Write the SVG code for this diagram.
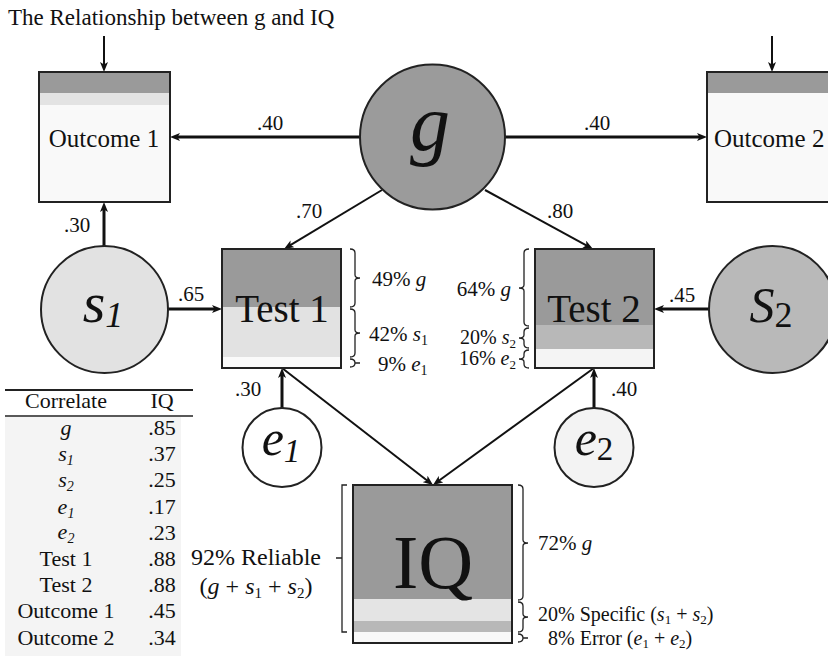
<svg xmlns="http://www.w3.org/2000/svg" width="828" height="656" viewBox="0 0 828 656">
<style>
text{font-family:"Liberation Serif","Times New Roman",serif;fill:#111}
.i{font-style:italic}
.out{fill:none;stroke:#222;stroke-width:2}
.node{stroke:#222;stroke-width:2}
.br{fill:none;stroke:#222;stroke-width:1.3}
.lbl{font-size:21px}
.sm{font-size:20px}
.tb{font-size:22px}
#connectors line{stroke:#111;fill:none}
.w3{stroke-width:3}
.w2{stroke-width:2}
</style>
<defs>
<marker id="ah" viewBox="0 0 10 8" refX="5" refY="4" markerWidth="10" markerHeight="8" markerUnits="userSpaceOnUse" orient="auto">
<path d="M0,0 L10,4 L0,8 L2.5,4 z" fill="#111"/>
</marker>
</defs>
<rect width="828" height="656" fill="#fff"/>
<text x="8" y="25" font-size="23">The Relationship between g and IQ</text>

<g id="connectors">
<line class="w2" x1="104" y1="36" x2="104" y2="67" marker-end="url(#ah)"/>
<line class="w2" x1="772" y1="36" x2="772" y2="67" marker-end="url(#ah)"/>
<line class="w3" x1="360" y1="137" x2="175" y2="137" marker-end="url(#ah)"/>
<line class="w3" x1="505" y1="137" x2="702" y2="137" marker-end="url(#ah)"/>
<line class="w2" x1="382" y1="190" x2="288.3" y2="246.4" marker-end="url(#ah)"/>
<line class="w2" x1="485" y1="190" x2="588.6" y2="246.6" marker-end="url(#ah)"/>
<line class="w3" x1="104" y1="246" x2="104" y2="207" marker-end="url(#ah)"/>
<line class="w3" x1="168" y1="309" x2="217" y2="309" marker-end="url(#ah)"/>
<line class="w3" x1="709" y1="309" x2="659" y2="309" marker-end="url(#ah)"/>
<line class="w3" x1="282" y1="408" x2="282" y2="373" marker-end="url(#ah)"/>
<line class="w3" x1="594" y1="408" x2="594" y2="373" marker-end="url(#ah)"/>
<line class="w2" x1="282" y1="368" x2="429.05" y2="481.94" marker-end="url(#ah)"/>
<line class="w2" x1="594" y1="368" x2="437.05" y2="482.06" marker-end="url(#ah)"/>
<text class="lbl" x="270" y="130" text-anchor="middle">.40</text>
<text class="lbl" x="597" y="130" text-anchor="middle">.40</text>
<text class="lbl" x="309" y="218" text-anchor="middle">.70</text>
<text class="lbl" x="560" y="218" text-anchor="middle">.80</text>
<text class="lbl" x="77" y="232" text-anchor="middle">.30</text>
<text class="lbl" x="191" y="301" text-anchor="middle">.65</text>
<text class="lbl" x="682" y="302" text-anchor="middle">.45</text>
<text class="lbl" x="248" y="396" text-anchor="middle">.30</text>
<text class="lbl" x="624" y="396" text-anchor="middle">.40</text>
</g>

<g id="outcome1">
<rect x="39" y="72" width="131" height="130" fill="#f9f9f9"/>
<rect x="39" y="72" width="131" height="21" fill="#9a9a9a"/>
<rect x="39" y="93" width="131" height="12" fill="#e3e3e3"/>
<rect class="out" x="39" y="72" width="131" height="130"/>
<text x="104" y="147" font-size="25" text-anchor="middle">Outcome 1</text>
</g>

<g id="outcome2">
<rect x="707" y="72" width="131" height="130" fill="#f9f9f9"/>
<rect x="707" y="72" width="131" height="21" fill="#9a9a9a"/>
<rect class="out" x="707" y="72" width="131" height="130"/>
<text x="714" y="147" font-size="25">Outcome 2</text>
</g>

<g id="g">
<circle class="node" cx="432.5" cy="137" r="72.5" fill="#9b9b9b"/>
<text class="i" x="430" y="150" font-size="80" text-anchor="middle">g</text>
</g>

<g id="s1">
<circle class="node" cx="104.5" cy="309.5" r="63.5" fill="#e2e2e2"/>
<text x="103" y="322" text-anchor="middle"><tspan class="i" font-size="58">s</tspan><tspan class="i" font-size="36" dy="5">1</tspan></text>
</g>

<g id="s2">
<circle class="node" cx="772.5" cy="309.5" r="63.5" fill="#b9b9b9"/>
<text x="771" y="322" text-anchor="middle"><tspan class="i" font-size="50">S</tspan><tspan font-size="36" dy="5">2</tspan></text>
</g>

<g id="e1">
<circle class="node" cx="282" cy="447.5" r="39.5" fill="#ffffff"/>
<text x="281" y="455" text-anchor="middle"><tspan class="i" font-size="50">e</tspan><tspan class="i" font-size="33" dy="7">1</tspan></text>
</g>

<g id="e2">
<circle class="node" cx="594" cy="447.5" r="39.5" fill="#f3f3f3"/>
<text x="594" y="455" text-anchor="middle"><tspan class="i" font-size="50">e</tspan><tspan font-size="33" dy="5">2</tspan></text>
</g>

<g id="test1">
<rect x="222" y="249" width="119" height="119" fill="#fafafa"/>
<rect x="222" y="249" width="119" height="58" fill="#9a9a9a"/>
<rect x="222" y="307" width="119" height="50" fill="#e2e2e2"/>
<rect class="out" x="222" y="249" width="119" height="119"/>
<text x="282" y="322" font-size="39" text-anchor="middle">Test 1</text>
<path class="br" d="M350,249 Q355,249 355,253 V275 Q355,278 360,278 Q355,278 355,281 V303 Q355,307 350,307"/>
<path class="br" d="M350,309 Q355,309 355,313 V330 Q355,333 360,333 Q355,333 355,336 V353 Q355,357 350,357"/>
<path class="br" d="M350,359 Q355,359 355,363 Q355,367 350,367 M355,363 H360"/>
<text class="lbl" x="372" y="286">49% <tspan class="i">g</tspan></text>
<text class="lbl" x="369" y="341">42% <tspan class="i">s</tspan><tspan font-size="14" dy="4">1</tspan></text>
<text class="lbl" x="378" y="371">9% <tspan class="i">e</tspan><tspan font-size="14" dy="4">1</tspan></text>
</g>

<g id="test2">
<rect x="535" y="249" width="119" height="119" fill="#f4f4f4"/>
<rect x="535" y="249" width="119" height="76" fill="#9a9a9a"/>
<rect x="535" y="325" width="119" height="24" fill="#b8b8b8"/>
<rect class="out" x="535" y="249" width="119" height="119"/>
<text x="594" y="322" font-size="39" text-anchor="middle">Test 2</text>
<path class="br" d="M529,249 Q524,249 524,253 V285 Q524,288 519,288 Q524,288 524,291 V322 Q524,326 529,326"/>
<path class="br" d="M529,328 Q524,328 524,332 V335 Q524,338 519,338 Q524,338 524,341 V344 Q524,348 529,348"/>
<path class="br" d="M529,350 Q524,350 524,354 V356 Q524,359 519,359 Q524,359 524,362 V364 Q524,368 529,368"/>
<text class="lbl" x="511" y="296" text-anchor="end">64% <tspan class="i">g</tspan></text>
<text class="sm" x="516" y="344" text-anchor="end">20% <tspan class="i">s</tspan><tspan font-size="13" dy="4">2</tspan></text>
<text class="sm" x="516" y="365" text-anchor="end">16% <tspan class="i">e</tspan><tspan font-size="13" dy="4">2</tspan></text>
</g>

<g id="iq">
<rect x="353" y="485" width="159" height="158" fill="#f8f8f8"/>
<rect x="353" y="485" width="159" height="114" fill="#9a9a9a"/>
<rect x="353" y="599" width="159" height="22" fill="#e4e4e4"/>
<rect x="353" y="621" width="159" height="11" fill="#b8b8b8"/>
<rect class="out" x="353" y="485" width="159" height="158"/>
<text x="433" y="588" font-size="76" text-anchor="middle">IQ</text>
<path class="br" d="M347,485 H342 V632 H347 M342,558 H336"/>
<path class="br" d="M518,485 Q523,485 523,489 V540 Q523,543 528,543 Q523,543 523,546 V596 Q523,600 518,600"/>
<path class="br" d="M518,602 Q523,602 523,606 V614 Q523,617 528,617 Q523,617 523,620 V628 Q523,632 518,632"/>
<path class="br" d="M518,634 Q523,634 523,638 Q523,642 518,642 M523,638 H528"/>
<text class="lbl" x="538" y="550">72% <tspan class="i">g</tspan></text>
<text class="sm" x="538" y="621">20% Specific (<tspan class="i">s</tspan><tspan font-size="13" dy="3">1</tspan><tspan dy="-3"> + </tspan><tspan class="i">s</tspan><tspan font-size="13" dy="3">2</tspan><tspan dy="-3">)</tspan></text>
<text class="sm" x="548" y="645">8% Error (<tspan class="i">e</tspan><tspan font-size="13" dy="3">1</tspan><tspan dy="-3"> + </tspan><tspan class="i">e</tspan><tspan font-size="13" dy="3">2</tspan><tspan dy="-3">)</tspan></text>
<text x="256" y="565" font-size="24" text-anchor="middle">92% Reliable</text>
<text x="256" y="594" font-size="24" text-anchor="middle">(<tspan class="i">g</tspan> + <tspan class="i">s</tspan><tspan font-size="15" dy="4">1</tspan><tspan dy="-4"> + </tspan><tspan class="i">s</tspan><tspan font-size="15" dy="4">2</tspan><tspan dy="-4">)</tspan></text>
</g>

<g id="table">
<rect x="5" y="417" width="176" height="239" fill="#f4f4f4"/>
<line x1="5" y1="390" x2="193" y2="390" stroke="#222" stroke-width="2"/>
<line x1="5" y1="416" x2="193" y2="416" stroke="#222" stroke-width="1.5"/>
<g class="tb">
<text x="66" y="408" text-anchor="middle">Correlate</text>
<text x="162" y="408" text-anchor="middle">IQ</text>
<text class="i" x="66" y="435" text-anchor="middle">g</text>
<text x="66" y="461" text-anchor="middle"><tspan class="i">s</tspan><tspan class="i" font-size="14" dy="4">1</tspan></text>
<text x="66" y="487" text-anchor="middle"><tspan class="i">s</tspan><tspan class="i" font-size="14" dy="4">2</tspan></text>
<text x="66" y="514" text-anchor="middle"><tspan class="i">e</tspan><tspan class="i" font-size="14" dy="4">1</tspan></text>
<text x="66" y="539" text-anchor="middle"><tspan class="i">e</tspan><tspan class="i" font-size="14" dy="4">2</tspan></text>
<text x="66" y="566" text-anchor="middle">Test 1</text>
<text x="66" y="592" text-anchor="middle">Test 2</text>
<text x="66" y="618" text-anchor="middle">Outcome 1</text>
<text x="66" y="645" text-anchor="middle">Outcome 2</text>
<text x="162" y="435" text-anchor="middle">.85</text>
<text x="162" y="461" text-anchor="middle">.37</text>
<text x="162" y="487" text-anchor="middle">.25</text>
<text x="162" y="514" text-anchor="middle">.17</text>
<text x="162" y="540" text-anchor="middle">.23</text>
<text x="162" y="566" text-anchor="middle">.88</text>
<text x="162" y="592" text-anchor="middle">.88</text>
<text x="162" y="618" text-anchor="middle">.45</text>
<text x="162" y="645" text-anchor="middle">.34</text>
</g>
</g>
</svg>
